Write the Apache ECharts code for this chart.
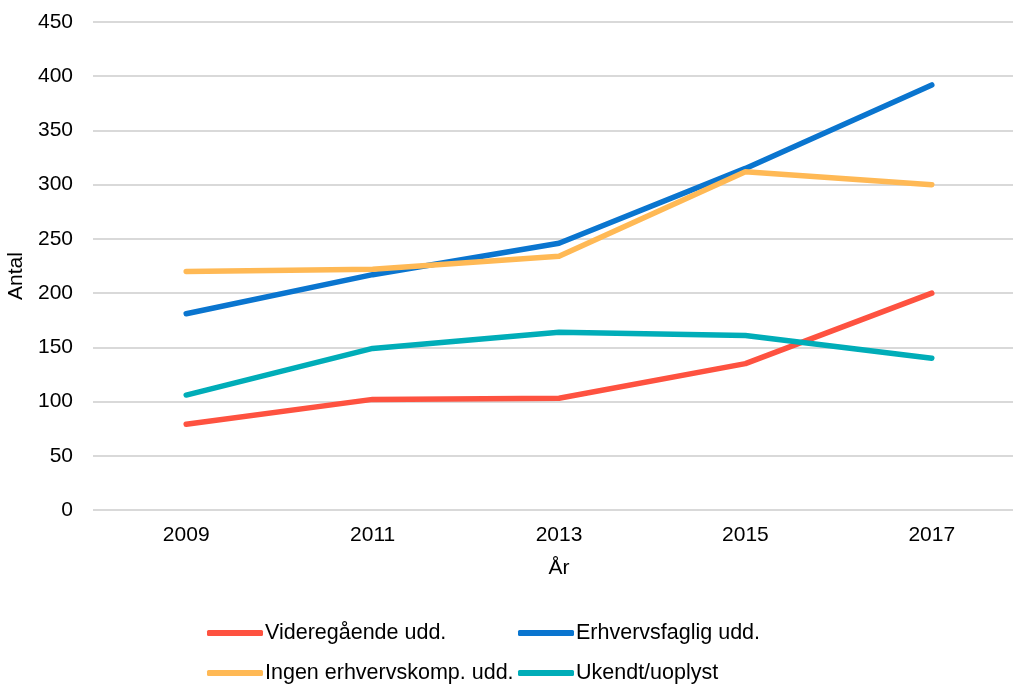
<!DOCTYPE html>
<html>
<head>
<meta charset="utf-8">
<script src="https://cdn.jsdelivr.net/npm/echarts@6/dist/echarts.min.js"></script>
<style>
  html, body { margin: 0; padding: 0; background: #fff; }
  #main { width: 1013px; height: 684px; }
</style>
</head>
<body>
<div id="main"></div>
<script>
// data
var years = ['2009', '2011', '2013', '2015', '2017'];
var videregaaende = [79, 102, 103, 135, 200];
var erhvervsfaglig = [181, 217, 246, 315, 392];
var ingenErhverv = [220, 222, 234, 312, 300];
var ukendt = [106, 149, 164, 161, 140];

var names = ['Videregående udd.', 'Erhvervsfaglig udd.', 'Ingen erhvervskomp. udd.', 'Ukendt/uoplyst'];
var colors = ['#fe5240', '#0a75cf', '#ffb955', '#00adb8'];

var font = 'Liberation Sans, Arial, sans-serif';

function mkSeries(i, data) {
    return {
        name: names[i],
        type: 'line',
        data: data,
        symbol: 'none',
        color: colors[i],
        lineStyle: { width: 5.5, color: colors[i], cap: 'round', join: 'round' }
    };
}

// two vertical legends side by side give the 2x2 layout
function mkLegend(left, items) {
    return {
        left: left,
        top: 622,
        padding: 0,
        orient: 'vertical',
        itemGap: 18,
        itemWidth: 56,
        itemHeight: 6,
        icon: 'roundRect',
        data: items,
        textStyle: { fontFamily: font, fontSize: 21.5, lineHeight: 22, color: '#000', padding: [0, 0, 0, -3] }
    };
}

var myChart = echarts.init(document.getElementById('main'));
myChart.setOption({
    backgroundColor: '#fff',
    animation: false,
    grid: { left: 93, top: 22, width: 932, height: 488, outerBoundsMode: 'none', containLabel: false },
    legend: [
        mkLegend(207, [names[0], names[2]]),
        mkLegend(518, [names[1], names[3]])
    ],
    xAxis: {
        type: 'category',
        data: years,
        boundaryGap: true,
        name: 'År',
        nameLocation: 'middle',
        nameGap: 48,
        nameTextStyle: { fontFamily: font, fontSize: 21, color: '#000' },
        axisLine: { show: false },
        axisTick: { show: false },
        axisLabel: { fontFamily: font, fontSize: 21, color: '#000', margin: 15 }
    },
    yAxis: {
        type: 'value',
        min: 0,
        max: 450,
        interval: 50,
        name: 'Antal',
        nameLocation: 'middle',
        nameGap: 63,
        nameRotate: 90,
        nameTextStyle: { fontFamily: font, fontSize: 21, color: '#000', padding: [0, 20, 0, 0] },
        axisLine: { show: false },
        axisTick: { show: false },
        axisLabel: { fontFamily: font, fontSize: 21, color: '#000', margin: 20 },
        splitLine: { lineStyle: { color: '#d9d9d9', width: 2 } }
    },
    series: [
        mkSeries(0, videregaaende),
        mkSeries(1, erhvervsfaglig),
        mkSeries(2, ingenErhverv),
        mkSeries(3, ukendt)
    ]
});
</script>
</body>
</html>
